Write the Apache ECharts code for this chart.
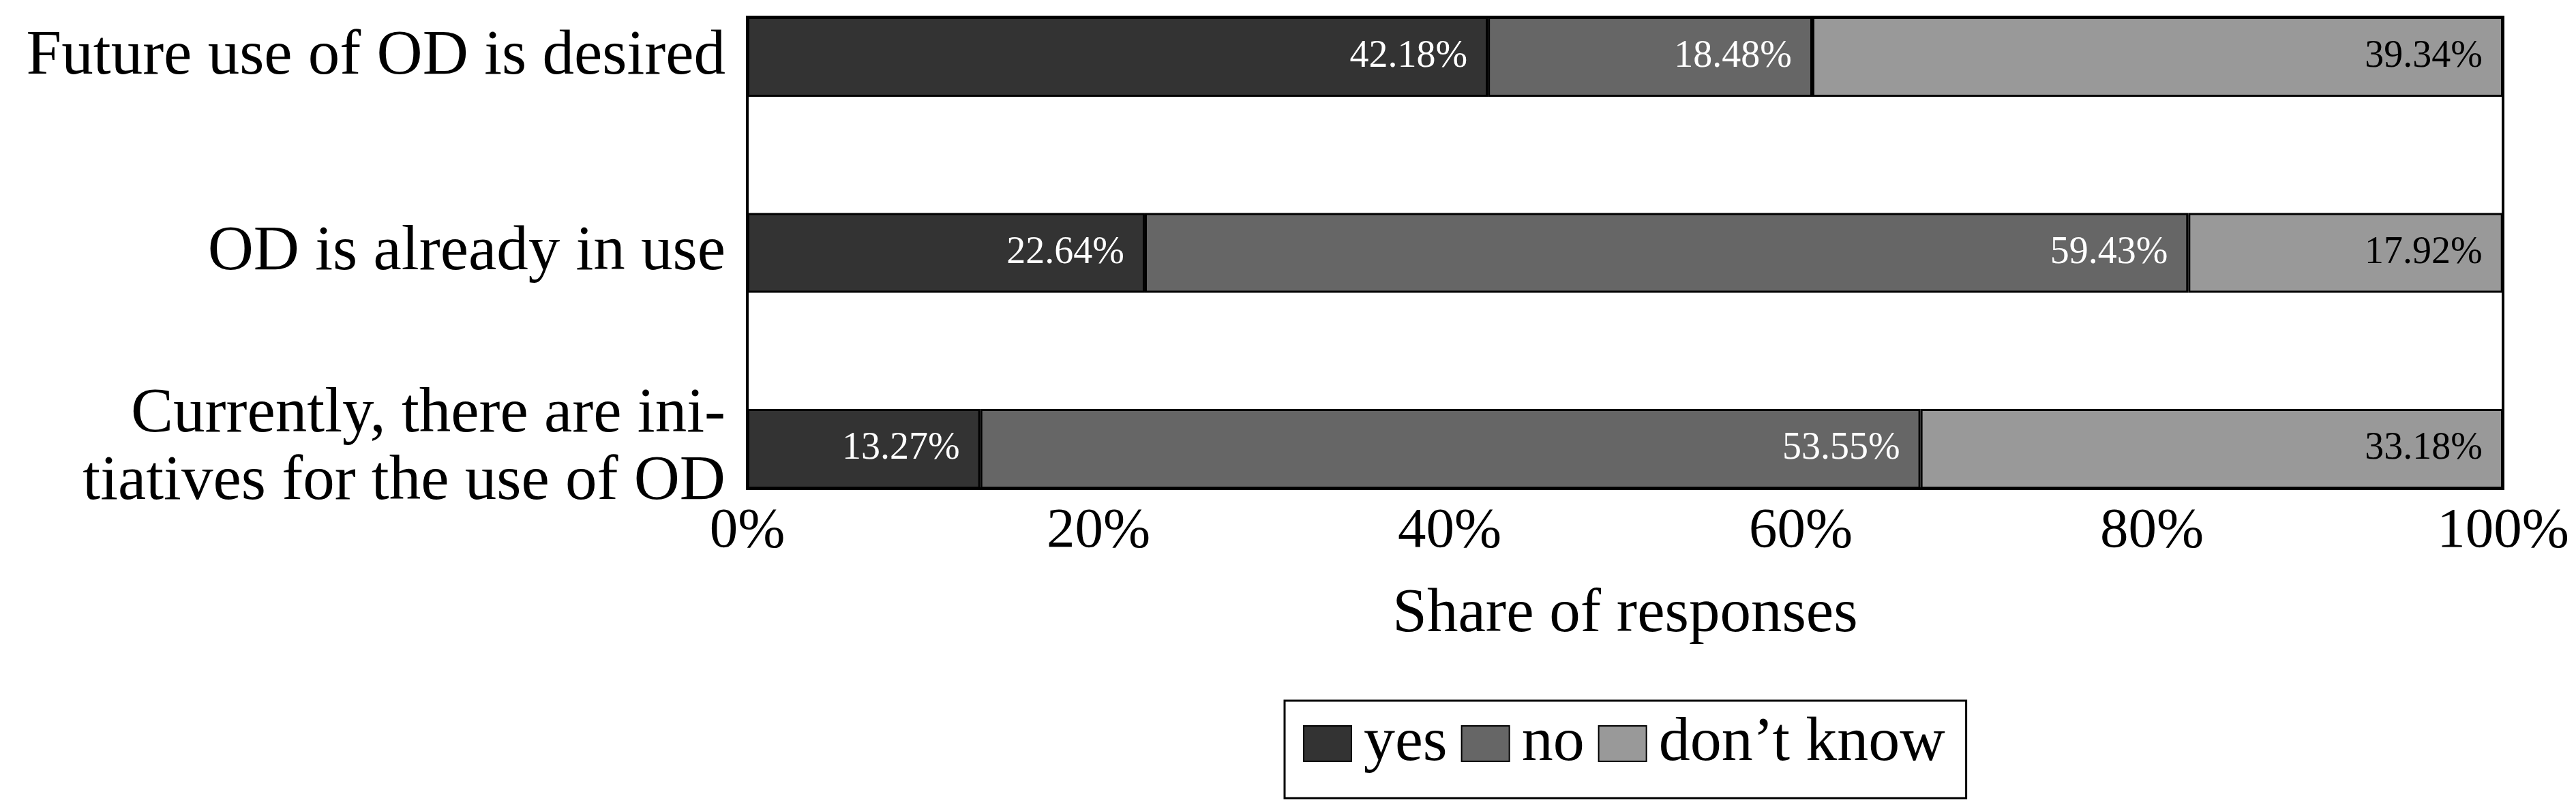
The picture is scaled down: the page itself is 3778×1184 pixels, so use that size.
<!DOCTYPE html>
<html>
<head>
<meta charset="utf-8">
<script src="https://cdn.jsdelivr.net/npm/echarts@6.0.0/dist/echarts.min.js"></script>
<style>
  html, body { margin: 0; padding: 0; background: #fff; }
  #chart { width: 3778px; height: 1184px; }
</style>
</head>
<body>
<div id="chart"></div>
<script>
const categories = [
  'Future use of OD is desired',
  'OD is already in use',
  'Currently, there are ini-\ntiatives for the use of OD'
]
const yesValues = [42.18, 22.64, 13.27]
const noValues = [18.48, 59.43, 53.55]
const dontKnowValues = [39.34, 17.92, 33.18]
const seriesNames = ['yes', 'no', 'don\u2019t know']
const seriesColors = ['#333333', '#666666', '#999999']
const labelColors = ['#ffffff', '#ffffff', '#000000']

const font = 'Liberation Serif'
const plotLeft = 1096
const plotRight = 107

function barSeries(i, values) {
  return {
    name: seriesNames[i],
    type: 'bar',
    stack: 'total',
    xAxisIndex: 0,
    yAxisIndex: 0,
    barWidth: 117,
    clip: false,
    data: values,
    itemStyle: { color: seriesColors[i], borderColor: '#000', borderWidth: 3 },
    label: {
      show: true,
      position: 'insideRight',
      distance: 30,
      color: labelColors[i],
      fontFamily: font,
      fontSize: 56,
      formatter: p => p.value.toFixed(2) + '%'
    }
  }
}

var chart = echarts.init(document.getElementById('chart'))
var option = {
  animation: false,
  backgroundColor: '#fff',
  grid: [
    // bar centres: first and last category sit on the grid edges
    { left: plotLeft, right: plotRight, top: 83.5, height: 575 },
    // frame + x axis
    { left: plotLeft, right: plotRight, top: 25, height: 692, show: true,
      borderColor: '#000', borderWidth: 4, backgroundColor: 'transparent' }
  ],
  xAxis: [
    { gridIndex: 0, type: 'value', min: 0, max: 100, show: false },
    {
      gridIndex: 1, type: 'value', min: 0, max: 100, interval: 20,
      axisLine: { show: false }, axisTick: { show: false }, splitLine: { show: false },
      axisLabel: { formatter: '{value}%', color: '#000', fontFamily: font, fontSize: 83, margin: 22 },
      name: 'Share of responses',
      nameLocation: 'middle',
      nameGap: 140,
      nameTextStyle: { color: '#000', fontFamily: font, fontSize: 91 }
    }
  ],
  yAxis: [
    {
      gridIndex: 0, type: 'category', inverse: true, boundaryGap: false, data: categories,
      axisLine: { show: false }, axisTick: { show: false }, splitLine: { show: false },
      axisLabel: { color: '#000', fontFamily: font, fontSize: 93, lineHeight: 99, margin: 32, align: 'right' }
    },
    { gridIndex: 1, type: 'value', show: false }
  ],
  legend: {
    data: seriesNames,
    left: 1884,
    top: 1028,
    orient: 'horizontal',
    padding: [17, 31, 34, 27],
    itemWidth: 70,
    itemHeight: 52,
    itemGap: 20,
    icon: 'rect',
    borderColor: '#000',
    borderWidth: 3,
    textStyle: { color: '#000', fontFamily: font, fontSize: 92, lineHeight: 88, padding: [0, 0, 0, 13] }
  },
  series: [
    barSeries(0, yesValues),
    barSeries(1, noValues),
    barSeries(2, dontKnowValues)
  ]
}
chart.setOption(option)
</script>
</body>
</html>
